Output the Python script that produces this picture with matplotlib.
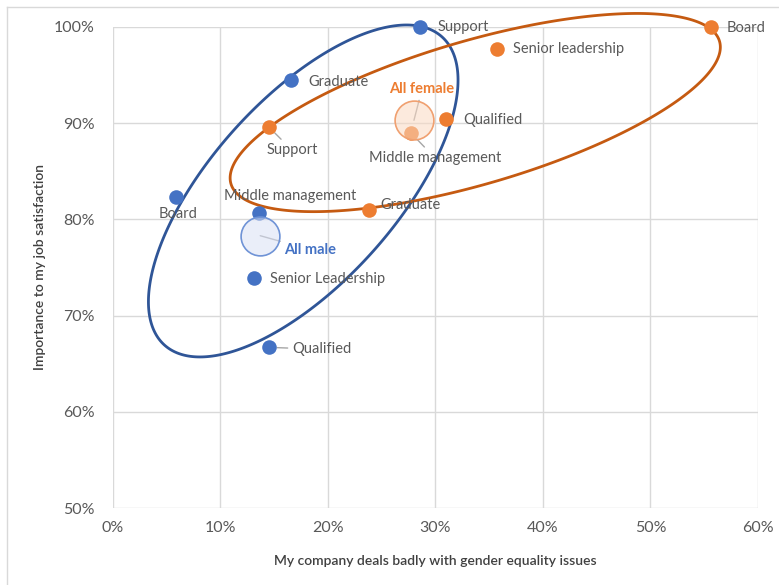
import numpy as np
import matplotlib
matplotlib.use("Agg")
import matplotlib.pyplot as plt
from matplotlib.ticker import PercentFormatter, MultipleLocator
from matplotlib.lines import Line2D
from matplotlib.patches import Polygon

plt.rcParams['font.family'] = ['Lato', 'DejaVu Sans']

# Survey results by role (x: company deals badly with gender equality, y: importance)
male_roles = ["Support", "Graduate", "Board", "Middle management",
              "Senior Leadership", "Qualified"]
male_x = [28.6, 16.6, 5.9, 13.6, 13.1, 14.5]
male_y = [100.0, 94.5, 82.3, 80.7, 73.9, 66.7]

female_roles = ["Board", "Senior leadership", "Qualified", "Support",
                "Middle management", "Graduate"]
female_x = [55.6, 35.7, 31.0, 14.5, 27.7, 23.8]
female_y = [100.0, 97.7, 90.4, 89.6, 89.0, 81.0]

all_male_x, all_male_y = 13.7, 78.3
all_female_x, all_female_y = 28.0, 90.3

BLUE = "#4472C4"
BLUE_DARK = "#2F5597"
ORANGE = "#ED7D31"
ORANGE_DARK = "#C55A11"
TEXT = "#595959"

fig = plt.figure(figsize=(7.79, 5.85), dpi=100)
ax = fig.add_axes([0.145, 0.1316, 0.828, 0.8224])

ax.set_xlim(0, 60)
ax.set_ylim(50, 100)
ax.xaxis.set_major_locator(MultipleLocator(10))
ax.yaxis.set_major_locator(MultipleLocator(10))
ax.xaxis.set_major_formatter(PercentFormatter(100, decimals=0))
ax.yaxis.set_major_formatter(PercentFormatter(100, decimals=0))
ax.grid(True, color="#D9D9D9", linewidth=1)
ax.set_axisbelow(True)
for s in ax.spines.values():
    s.set_visible(False)
ax.tick_params(length=0, labelsize=11.5, labelcolor=TEXT)
ax.tick_params(axis='y', pad=13)
ax.tick_params(axis='x', pad=9)

ax.set_xlabel("My company deals badly with gender equality issues",
              fontsize=10, color="#404040", fontweight="semibold", labelpad=15)
ax.set_ylabel("Importance to my job satisfaction",
              fontsize=10, color="#404040", fontweight="semibold", labelpad=6)

# Group ellipses (centre, x half-extent, y half-extent, phase)
def group_ellipse(cx, cy, rx, ry, phase, color):
    t = np.linspace(0, 2 * np.pi, 400, endpoint=False)
    pts = np.column_stack([cx + rx * np.cos(t), cy + ry * np.cos(t - phase)])
    ax.add_patch(Polygon(pts, closed=True, fill=False, edgecolor=color,
                         lw=2, clip_on=False, zorder=2))

group_ellipse(17.7, 82.95, 14.4, 17.25, 0.84, BLUE_DARK)
group_ellipse(33.7, 91.1, 22.8, 10.3, 0.85, ORANGE_DARK)

# Role markers
ax.scatter(male_x, male_y, s=110, color=BLUE, zorder=4, clip_on=False, linewidths=0)
ax.scatter(female_x, female_y, s=110, color=ORANGE, zorder=4, clip_on=False, linewidths=0)

# Overall averages
ax.scatter([all_male_x], [all_male_y], s=780, facecolor=(0.85, 0.88, 0.96, 0.55),
           edgecolor="#6F93D6", linewidths=1.2, zorder=5)
ax.scatter([all_female_x], [all_female_y], s=780, facecolor=(0.98, 0.85, 0.76, 0.55),
           edgecolor="#F0A070", linewidths=1.2, zorder=5)

PX = 0.72  # points per pixel at 100 dpi

def label(text, x, y, dx, dy, ha="left", va="center", leader=False,
          color=TEXT, weight="normal", shrink=6):
    arrow = dict(arrowstyle="-", color="#A6A6A6", lw=1,
                 shrinkA=1, shrinkB=shrink) if leader else None
    ax.annotate(text, xy=(x, y), xytext=(dx * PX, -dy * PX),
                textcoords="offset points", ha=ha, va=va, fontsize=10.5,
                color=color, fontweight=weight, arrowprops=arrow,
                annotation_clip=False, zorder=3)

male_offsets = {
    "Support": (17, 0, "left", False),
    "Graduate": (17, 2, "left", False),
    "Board": (2, 17, "center", False),
    "Middle management": (31, -17, "center", False),
    "Senior Leadership": (16, 1, "left", False),
    "Qualified": (23, 2, "left", True),
}
for name, x, y in zip(male_roles, male_x, male_y):
    dx, dy, ha, ld = male_offsets[name]
    label(name, x, y, dx, dy, ha=ha, leader=ld)

female_offsets = {
    "Board": (16, 1, "left", False),
    "Senior leadership": (16, 0, "left", False),
    "Qualified": (17, 1, "left", False),
    "Support": (23, 23, "center", True),
    "Middle management": (24, 25, "center", True),
    "Graduate": (12, -5, "left", False),
}
for name, x, y in zip(female_roles, female_x, female_y):
    dx, dy, ha, ld = female_offsets[name]
    label(name, x, y, dx, dy, ha=ha, leader=ld)

label("All male", all_male_x, all_male_y, 24, 14, ha="left", leader=True,
      color=BLUE, weight="bold", shrink=0)
label("All female", all_female_x, all_female_y, 8, -31, ha="center", leader=True,
      color=ORANGE, weight="bold", shrink=0)

# Chart-area border (top and left edges)
fig.add_artist(Line2D([7 / 779, 1], [1 - 7 / 585, 1 - 7 / 585],
                      transform=fig.transFigure, color="#D9D9D9", lw=1))
fig.add_artist(Line2D([7 / 779, 7 / 779], [0, 1 - 7 / 585],
                      transform=fig.transFigure, color="#D9D9D9", lw=1))

fig.savefig("out.png", dpi=100)
